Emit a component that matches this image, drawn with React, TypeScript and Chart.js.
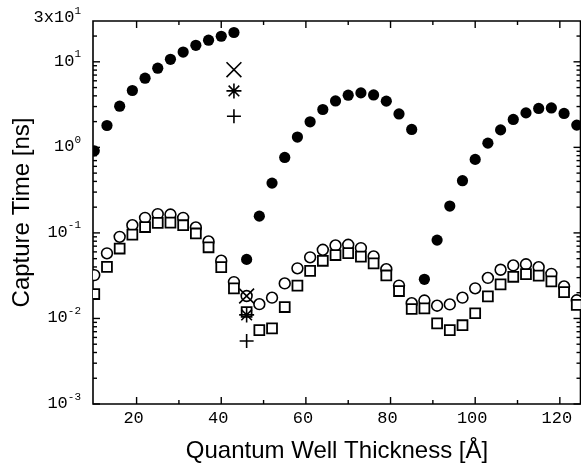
import React, { useEffect, useRef } from "react";
import { Chart, registerables } from "chart.js";

Chart.register(...registerables);

// Quantum well thickness (Å)
const thickness = [10, 13, 16, 19, 22, 25, 28, 31, 34, 37, 40, 43, 46, 49, 52, 55, 58, 61, 64, 67, 70, 73, 76, 79, 82, 85, 88, 91, 94, 97, 100, 103, 106, 109, 112, 115, 118, 121, 124];

// Filled circles (ns)
const filledCircle = [0.91, 1.80, 3.03, 4.62, 6.43, 8.42, 10.7, 13.0, 15.6, 17.9, 19.9, 22.0,
  0.049, 0.157, 0.382, 0.762, 1.32, 1.99, 2.77, 3.49, 4.07, 4.33, 4.10, 3.47, 2.46, 1.62,
  0.0287, 0.0824, 0.206, 0.408, 0.723, 1.12, 1.60, 2.12, 2.53, 2.85, 2.89, 2.49, 1.82];

// Open circles (ns)
const openCircle = [0.0321, 0.0577, 0.0899, 0.123, 0.150, 0.166, 0.164, 0.150, 0.116, 0.0796, 0.0474, 0.0266,
  0.0183, 0.0147, 0.0175, 0.0257, 0.0385, 0.0518, 0.0635, 0.0714, 0.0726, 0.0664, 0.0531, 0.0377, 0.0242, 0.0151,
  0.0162, 0.0141, 0.0146, 0.0175, 0.0225, 0.0298, 0.0371, 0.0417, 0.0430, 0.0398, 0.0332, 0.0237, 0.0163];

// Open squares (ns)
const openSquare = [0.0193, 0.0401, 0.0656, 0.0955, 0.117, 0.131, 0.132, 0.123, 0.0986, 0.0679, 0.0398, 0.0225,
  0.0119, 0.00731, 0.00765, 0.0136, 0.0242, 0.0360, 0.0472, 0.0551, 0.0581, 0.0528, 0.0440, 0.0318, 0.0209, 0.0129,
  0.0131, 0.00877, 0.00731, 0.00834, 0.0115, 0.0181, 0.0250, 0.0307, 0.0330, 0.0317, 0.0271, 0.0203, 0.0144];

// Single markers
const markerThickness = [43, 46];
const crossValues = [8.1, 0.0183];
const starValues = [4.57, 0.0110];
const plusValues = [2.31, 0.00544];

// Axis ticks
const xMajorTicks = [20, 40, 60, 80, 100, 120];
const xMinorTicks = [30, 50, 70, 90, 110];
const yDecades = [0.001, 0.01, 0.1, 1, 10];
const yMinorMultipliers = [2, 3, 4, 5, 6, 7, 8, 9];
const yLabelValues = [30, 10, 1, 0.1, 0.01, 0.001];
const yLabelBases = ["3x10", "10", "10", "10", "10", "10"];
const yLabelExponents = ["1", "1", "0", "-1", "-2", "-3"];

const X_MIN = 9.7;
const X_MAX = 125;
const Y_MIN = 0.001;
const Y_MAX = 30;

const MONO = "'Liberation Mono', 'Courier New', monospace";
const SANS = "'Liberation Sans', Arial, sans-serif";

const pts = (xs: number[], ys: number[]) => xs.map((x, i) => ({ x, y: ys[i] }));

const framePlugin = {
  id: "frameTicks",
  beforeDatasetsDraw(chart: any) {
    const { ctx, chartArea, scales } = chart;
    const { left, top, bottom } = chartArea;
    const right = chartArea.right - 0.5;
    const xs = scales.x;
    const ys = scales.y;
    ctx.save();
    ctx.strokeStyle = "#000";
    ctx.lineWidth = 1.6;
    ctx.beginPath();
    ctx.rect(left, top, right - left, bottom - top);
    ctx.stroke();
    const line = (x1: number, y1: number, x2: number, y2: number) => {
      ctx.beginPath();
      ctx.moveTo(x1, y1);
      ctx.lineTo(x2, y2);
      ctx.stroke();
    };
    ctx.lineWidth = 1.4;
    xMajorTicks.forEach((v) => {
      const p = xs.getPixelForValue(v);
      line(p, bottom, p, bottom - 7);
      line(p, top, p, top + 7);
    });
    xMinorTicks.forEach((v) => {
      const p = xs.getPixelForValue(v);
      line(p, bottom, p, bottom - 4);
      line(p, top, p, top + 4);
    });
    yDecades.forEach((d) => {
      const p = ys.getPixelForValue(d);
      line(left, p, left + 7, p);
      line(right, p, right - 7, p);
      yMinorMultipliers.forEach((m) => {
        const v = m * d;
        if (v >= Y_MAX) return;
        const q = ys.getPixelForValue(v);
        line(left, q, left + 4, q);
        line(right, q, right - 4, q);
      });
    });
    // y tick labels with superscript exponents
    ctx.fillStyle = "#000";
    ctx.textBaseline = "alphabetic";
    ctx.textAlign = "left";
    const labelRight = left - 12;
    yLabelValues.forEach((v, i) => {
      let p = ys.getPixelForValue(v);
      if (v === Y_MAX) p -= 3;
      ctx.font = `11px ${MONO}`;
      const supW = ctx.measureText(yLabelExponents[i]).width;
      ctx.font = `17px ${MONO}`;
      const baseW = ctx.measureText(yLabelBases[i]).width;
      ctx.fillText(yLabelBases[i], labelRight - supW - baseW, p + 4);
      ctx.font = `11px ${MONO}`;
      ctx.fillText(yLabelExponents[i], labelRight - supW, p - 4.5);
    });
    ctx.restore();
  },
};

export default function App() {
  const ref = useRef<HTMLCanvasElement | null>(null);

  useEffect(() => {
    if (!ref.current) return;
    const chart = new Chart(ref.current, {
      type: "scatter",
      data: {
        datasets: [
          {
            label: "plus",
            data: pts(markerThickness, plusValues),
            pointStyle: "cross",
            pointRadius: 7,
            borderColor: "#000",
            backgroundColor: "#000",
            borderWidth: 1.6,
          },
          {
            label: "star",
            data: pts(markerThickness, starValues),
            pointStyle: "star",
            pointRadius: 7.5,
            borderColor: "#000",
            backgroundColor: "#000",
            borderWidth: 1.6,
          },
          {
            label: "cross",
            data: pts(markerThickness, crossValues),
            pointStyle: "crossRot",
            pointRadius: 10.5,
            borderColor: "#000",
            backgroundColor: "#000",
            borderWidth: 1.6,
          },
          {
            label: "filled",
            data: pts(thickness, filledCircle),
            pointStyle: "circle",
            pointRadius: 5.6,
            borderWidth: 0,
            backgroundColor: "#000",
            borderColor: "#000",
          },
          {
            label: "square",
            data: pts(thickness, openSquare),
            pointStyle: "rect",
            pointRadius: 7,
            borderWidth: 1.8,
            backgroundColor: "#fff",
            borderColor: "#000",
          },
          {
            label: "circle",
            data: pts(thickness, openCircle),
            pointStyle: "circle",
            pointRadius: 5.4,
            borderWidth: 1.6,
            backgroundColor: "#fff",
            borderColor: "#000",
          },
        ],
      },
      options: {
        animation: false,
        responsive: false,
        maintainAspectRatio: false,
        events: [],
        layout: { autoPadding: false, padding: { top: 21, right: 0, left: 0, bottom: 0 } },
        plugins: {
          legend: { display: false },
          tooltip: { enabled: false },
        },
        scales: {
          x: {
            type: "linear",
            position: "bottom",
            min: X_MIN,
            max: X_MAX,
            grid: { display: false, drawTicks: false },
            border: { display: false },
            afterBuildTicks: (s: any) => {
              s.ticks = xMajorTicks.map((v) => ({ value: v }));
            },
            afterFit: (s: any) => {
              s.height = 62;
              s.paddingLeft = 0;
              s.paddingRight = 0;
            },
            ticks: {
              color: "#000",
              font: { family: MONO, size: 17 },
              padding: 4,
              labelOffset: -3,
              maxRotation: 0,
              autoSkip: false,
            },
            title: {
              display: true,
              text: "Quantum Well Thickness [Å]",
              color: "#000",
              font: { family: SANS, size: 24, lineHeight: 1.2 },
              padding: { top: 0, bottom: 0 },
            },
          },
          y: {
            type: "logarithmic",
            position: "left",
            min: Y_MIN,
            max: Y_MAX,
            grid: { display: false, drawTicks: false },
            border: { display: false },
            ticks: { display: false },
            afterFit: (s: any) => {
              s.width = 93;
              s.paddingTop = 0;
              s.paddingBottom = 0;
            },
            title: {
              display: true,
              text: "Capture Time [ns]",
              color: "#000",
              font: { family: SANS, size: 24, lineHeight: 1.2 },
              padding: { top: 8, bottom: 0 },
            },
          },
        },
      },
      plugins: [framePlugin],
    } as any);
    return () => chart.destroy();
  }, []);

  return (
    <div style={{ position: "absolute", left: 0, top: 0, width: 581, height: 466, background: "#fff" }}>
      <canvas ref={ref} width={581} height={466} style={{ width: 581, height: 466, display: "block" }} />
    </div>
  );
}
